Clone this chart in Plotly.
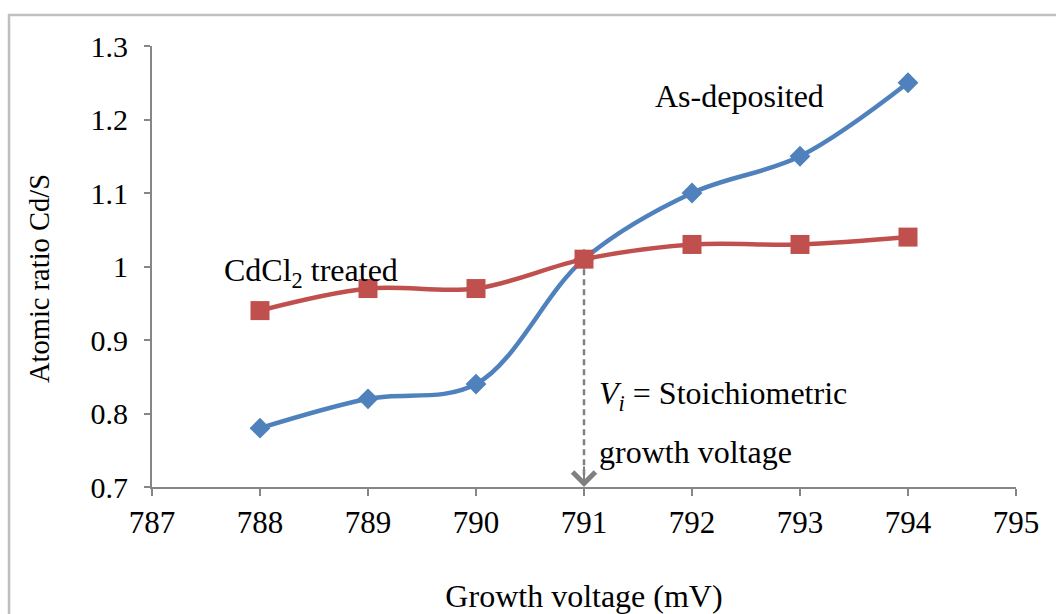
import plotly.graph_objects as go

# Growth voltage (mV) and Cd/S atomic ratio for both film states
voltage = [788, 789, 790, 791, 792, 793, 794]
as_deposited = [0.78, 0.82, 0.84, 1.01, 1.10, 1.15, 1.25]
cdcl2_treated = [0.94, 0.97, 0.97, 1.01, 1.03, 1.03, 1.04]

# Stoichiometric growth voltage marker
v_stoich = 791
ratio_stoich = 1.01

x_ticks = [787, 788, 789, 790, 791, 792, 793, 794, 795]
y_ticks = [0.7, 0.8, 0.9, 1.0, 1.1, 1.2, 1.3]
y_tick_text = ["0.7", "0.8", "0.9", "1", "1.1", "1.2", "1.3"]

FONT = "Liberation Serif"
BLUE = "#4F81BD"
RED = "#C0504D"
AXIS = "#868686"

fig = go.Figure()

# dashed drop line from the crossing point down to the voltage axis
fig.add_trace(go.Scatter(
    x=[v_stoich, v_stoich], y=[ratio_stoich, 0.7],
    mode="lines",
    line=dict(color="#808080", width=2.5, dash="6px,4px"),
    hoverinfo="skip", showlegend=False,
))

fig.add_trace(go.Scatter(
    x=voltage, y=as_deposited, name="As-deposited",
    mode="lines+markers",
    line=dict(color=BLUE, width=4.5, shape="spline", smoothing=1),
    marker=dict(symbol="diamond", size=16, color=BLUE),
    showlegend=False,
))

fig.add_trace(go.Scatter(
    x=voltage, y=cdcl2_treated, name="CdCl2 treated",
    mode="lines+markers",
    line=dict(color=RED, width=4.5, shape="spline", smoothing=1),
    marker=dict(symbol="square", size=19, color=RED),
    showlegend=False,
))

txt = dict(family=FONT, size=32, color="black")

fig.add_annotation(x=791.64, y=1.232, text="As-deposited", showarrow=False,
                   xanchor="left", yanchor="middle", font=txt)
fig.add_annotation(x=787.65, y=0.9925, text="CdCl<sub>2</sub> treated", showarrow=False,
                   xanchor="left", yanchor="middle", font=txt)
fig.add_annotation(x=791.12, y=0.825, text="<i>V<sub>i</sub></i> = Stoichiometric",
                   showarrow=False, xanchor="left", yanchor="middle", font=txt)
fig.add_annotation(x=791.12, y=0.7476, text="growth voltage", showarrow=False,
                   xanchor="left", yanchor="middle", font=txt)

# open arrowhead at the axis end of the drop line
fig.add_annotation(x=v_stoich, y=0.7, ax=v_stoich, ay=0.73,
                   xref="x", yref="y", axref="x", ayref="y",
                   text="", showarrow=True, arrowhead=4, arrowsize=2.2,
                   arrowwidth=2, arrowcolor="#808080", standoff=0)

# vertical axis title, set slightly below the axis centre
fig.add_annotation(x=-0.1296, y=0.4717, xref="paper", yref="paper",
                   text="Atomic ratio Cd/S", textangle=-90, showarrow=False,
                   xanchor="center", yanchor="middle",
                   font=dict(family=FONT, size=28.5, color="black"))

# outer chart frame
fig.add_shape(type="rect", xref="paper", yref="paper",
              x0=-0.1655, x1=1.06, y0=-0.32, y1=1.0703,
              line=dict(color="#BFBFBF", width=2.5), layer="below")

fig.update_xaxes(
    range=[787, 795], tickvals=x_ticks, ticktext=[str(v) for v in x_ticks],
    showgrid=False, zeroline=False, showline=True, linecolor=AXIS, linewidth=2,
    ticks="outside", ticklen=7, tickwidth=2, tickcolor=AXIS,
    automargin=False,
    tickfont=dict(family=FONT, size=31, color="black"),
    title=dict(text="Growth voltage (mV)", font=dict(family=FONT, size=32, color="black"),
               standoff=55),
)
fig.update_yaxes(
    range=[0.7, 1.3], tickvals=y_ticks, ticktext=y_tick_text,
    showgrid=False, zeroline=False, showline=True, linecolor=AXIS, linewidth=2,
    ticks="outside", ticklen=6, tickwidth=2, tickcolor=AXIS,
    ticklabelstandoff=10, automargin=False,
    tickfont=dict(family=FONT, size=30, color="black"),
)

fig.update_layout(
    width=1056, height=614,
    margin=dict(l=152, r=40, t=46, b=127),
    plot_bgcolor="white", paper_bgcolor="white",
    showlegend=False,
)

fig.write_html("out.html")
